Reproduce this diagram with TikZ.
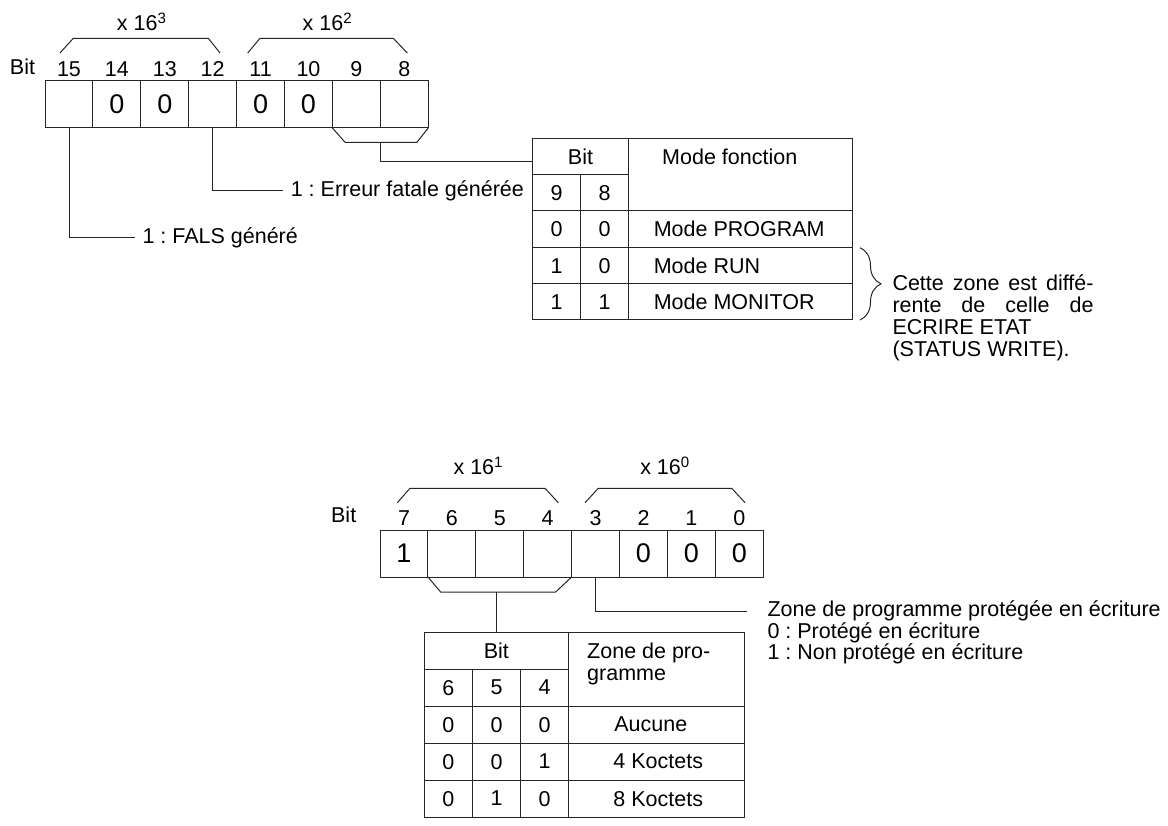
\documentclass[tikz,border=0pt]{standalone}
\usepackage{fontspec}
\setmainfont{Liberation Sans}
\usepackage{tikz}
\usetikzlibrary{positioning,decorations.pathreplacing}
\frenchspacing

\begin{document}
\begin{tikzpicture}[x=1pt, y=-1pt,
  font=\fontsize{21.5}{22}\selectfont,
  line width=1pt, draw=black!85,
  cell/.style={draw, minimum width=47.9pt, minimum height=47pt,
    inner sep=0pt, outer sep=0pt, font=\fontsize{27}{30}\selectfont},
  bitno/.style={inner sep=0pt},
  txt/.style={inner sep=0pt},
  lbl/.style={inner xsep=7pt, inner ysep=0pt, text height=15pt,
    text depth=3pt, anchor=west}
]
\useasboundingbox (0,0) rectangle (1168,826);

% register, bits 15..8
\node[txt] (bit1) at (22.5,67) {Bit};
\node[cell] (c15) at (69,104.5) {};
\node[cell, right=0pt of c15] (c14) {0};
\node[cell, right=0pt of c14] (c13) {0};
\node[cell, right=0pt of c13] (c12) {};
\node[cell, right=0pt of c12] (c11) {0};
\node[cell, right=0pt of c11] (c10) {0};
\node[cell, right=0pt of c10] (c9) {};
\node[cell, right=0pt of c9] (c8) {};
\node[bitno, above=4pt of c15] (b15) {15};
\node[bitno, above=4pt of c14] (b14) {14};
\node[bitno, above=4pt of c13] (b13) {13};
\node[bitno, above=4pt of c12] (b12) {12};
\node[bitno, above=4pt of c11] (b11) {11};
\node[bitno, above=4pt of c10] (b10) {10};
\node[bitno, above=4pt of c9] (b9) {9};
\node[bitno, above=4pt of c8] (b8) {8};
\node[txt] (x3) at (141.7,22) {x 16\textsuperscript{3}};
\node[txt] (x2) at (327.5,22) {x 16\textsuperscript{2}};
\draw (60,53) -- (73.3,38.3) -- (208.3,38.3) -- (220,53);
\draw (247.7,53) -- (260,38.3) -- (393.3,38.3) -- (407.3,53);
\draw (c9.south west) -- ++(12.7,14.4) -- ++(71.7,0) -- (c8.south east);
\coordinate (k1) at ([yshift=-14.4pt]c9.south east);

\node[lbl] (err) at (283.3,190.7) {1 : Erreur fatale générée};
\node[lbl] (fals) at (135,237.7) {1 : FALS généré};
\draw (c12.south) |- (err.west);
\draw (c15.south) |- (fals.west);

% table mode fonction
\begin{scope}[shift={(532.7,138.3)}]
\draw (0,0) rectangle (319.6,181.7);
\draw (95.6,0) -- (95.6,181.7);
\draw (48,36.7) -- (48,181.7);
\draw (0,36.7) -- (95.6,36.7);
\draw (0,72.7) -- (319.6,72.7);
\draw (0,109.4) -- (319.6,109.4);
\draw (0,145.7) -- (319.6,145.7);
\coordinate (t1in) at (0,23.7);
\node[txt] (hb1) at (47.8,18.3) {Bit};
\node[txt, anchor=west] (mf) at (129,18.7) {Mode fonction};
\node[txt] (m9) at (24,54.7) {9};
\node[txt] (m8) at (71.8,54.7) {8};
\node[txt] (p9) at (24,91) {0};
\node[txt] (p8) at (71.8,91) {0};
\node[txt, anchor=west] (pm) at (120.6,91) {Mode PROGRAM};
\node[txt] (r9) at (24,127.5) {1};
\node[txt] (r8) at (71.8,127.5) {0};
\node[txt, anchor=west] (rm) at (120.6,127.5) {Mode RUN};
\node[txt] (n9) at (24,163.7) {1};
\node[txt] (n8) at (71.8,163.7) {1};
\node[txt, anchor=west] (nm) at (120.6,163.7) {Mode MONITOR};
\end{scope}
\draw (k1) |- (t1in);

\draw[decorate, decoration={brace, amplitude=21pt}] (860,247.7) -- (860,320);
\node[txt, anchor=north west, align=left] (cz) at (892,274)
  {\makebox[201pt][s]{Cette zone est diffé-}\\
   \makebox[201pt][s]{rente de celle de}\\
   ECRIRE ETAT\\
   (STATUS WRITE).};

% register, bits 7..0
\node[txt] (bit2) at (343.7,515) {Bit};
\node[cell] (c7) at (404,553.5) {1};
\node[cell, right=0pt of c7] (c6) {};
\node[cell, right=0pt of c6] (c5) {};
\node[cell, right=0pt of c5] (c4) {};
\node[cell, right=0pt of c4] (c3) {};
\node[cell, right=0pt of c3] (c2) {0};
\node[cell, right=0pt of c2] (c1) {0};
\node[cell, right=0pt of c1] (c0) {0};
\node[bitno, above=4pt of c7] (b7) {7};
\node[bitno, above=4pt of c6] (b6) {6};
\node[bitno, above=4pt of c5] (b5) {5};
\node[bitno, above=4pt of c4] (b4) {4};
\node[bitno, above=4pt of c3] (b3) {3};
\node[bitno, above=4pt of c2] (b2) {2};
\node[bitno, above=4pt of c1] (b1) {1};
\node[bitno, above=4pt of c0] (b0) {0};
\node[txt] (x1) at (478.3,466) {x 16\textsuperscript{1}};
\node[txt] (x0) at (665,466) {x 16\textsuperscript{0}};
\draw (397.3,502.7) -- (410,488.3) -- (545,488.3) -- (558.3,502.7);
\draw (585,502.7) -- (598.3,488.3) -- (731.7,488.3) -- (745,502.7);
\draw (c6.south west) -- ++(12.7,15) -- ++(115,0) -- (c4.south east);
\coordinate (k2) at (496.7,591.7);

\node[txt, anchor=north west, align=left, font=\fontsize{21.5}{19.5}\selectfont]
  (zt) at (767,600.5)
  {Zone de programme protégée en écriture\\
   0 : Protégé en écriture\\
   1 : Non protégé en écriture};
\draw (c3.south) |- ([xshift=-20pt, yshift=-11pt]zt.north west);

% table zone de programme
\begin{scope}[shift={(424.3,632.3)}]
\draw (0,0) rectangle (319.7,185);
\draw (144,0) -- (144,185);
\draw (48,37) -- (48,185);
\draw (96.4,37) -- (96.4,185);
\draw (0,37) -- (144,37);
\draw (0,73.7) -- (319.7,73.7);
\draw (0,111) -- (319.7,111);
\draw (0,147.7) -- (319.7,147.7);
\coordinate (t2in) at (72.4,0);
\node[txt] (hb2) at (72,18.5) {Bit};
\node[txt, anchor=north west, align=left] (zp) at (162.4,10.5) {Zone de pro-\\gramme};
\node[txt] (h6) at (24,55.3) {6};
\node[txt] (h5) at (72.2,55.3) {5};
\node[txt] (h4) at (120.2,55.3) {4};
\node[txt] (a6) at (24,92.3) {0};
\node[txt] (a5) at (72.2,92.3) {0};
\node[txt] (a4) at (120.2,92.3) {0};
\node[txt] (az) at (226.5,92.3) {Aucune};
\node[txt] (f6) at (24,129.3) {0};
\node[txt] (f5) at (72.2,129.3) {0};
\node[txt] (f4) at (120.2,129.3) {1};
\node[txt] (fz) at (234,129.3) {4 Koctets};
\node[txt] (e6) at (24,166.3) {0};
\node[txt] (e5) at (72.2,166.3) {1};
\node[txt] (e4) at (120.2,166.3) {0};
\node[txt] (ez) at (234,166.3) {8 Koctets};
\end{scope}
\draw (k2) -- (t2in);
\end{tikzpicture}
\end{document}
